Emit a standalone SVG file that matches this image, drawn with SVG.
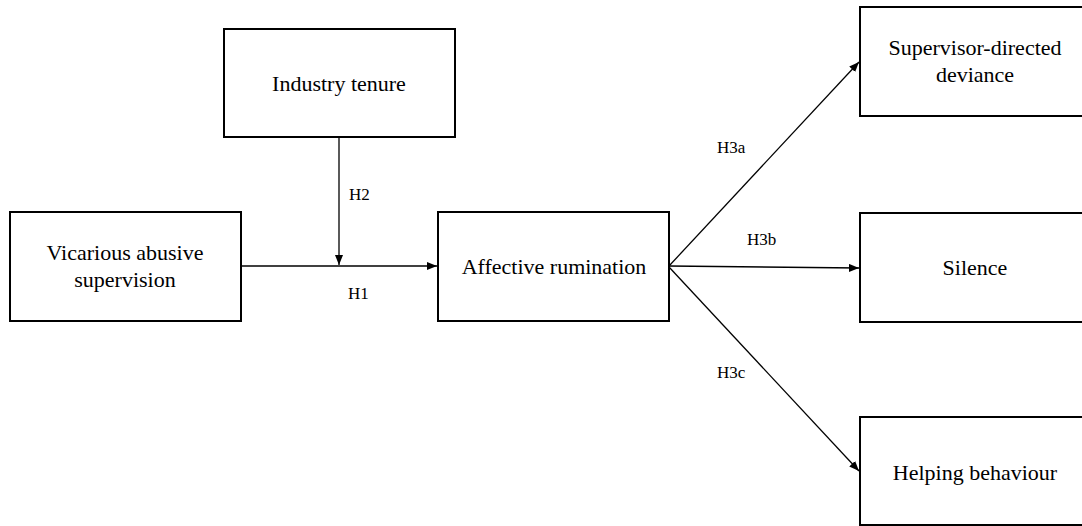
<svg xmlns="http://www.w3.org/2000/svg" width="1082" height="526" viewBox="0 0 1082 526">
<style>
.box{fill:#fff;stroke:#000;stroke-width:2}
.lbl{font-family:"Liberation Serif","Times New Roman",serif;font-size:22px;fill:#000;text-anchor:middle}
.h{font-family:"Liberation Serif","Times New Roman",serif;font-size:17px;fill:#000}
.ln{stroke:#000;stroke-width:1.3;fill:none}
</style>
<defs>
<marker id="ah" viewBox="0 0 10 8" refX="10" refY="4" markerWidth="10" markerHeight="8" markerUnits="userSpaceOnUse" orient="auto">
<path d="M0,0 L10,4 L0,8 Z" fill="#000"/>
</marker>
</defs>
<rect width="1082" height="526" fill="#fff"/>
<g id="connectors">
<path class="ln" d="M241,266 L437,266" marker-end="url(#ah)"/>
<path class="ln" d="M339,137 L339,265" marker-end="url(#ah)"/>
<path class="ln" d="M669,266 L859,62" marker-end="url(#ah)"/>
<path class="ln" d="M669,266 L859,268" marker-end="url(#ah)"/>
<path class="ln" d="M669,267 L859,471" marker-end="url(#ah)"/>
<text class="h" x="349" y="200">H2</text>
<text class="h" x="348" y="299">H1</text>
<text class="h" x="717" y="153">H3a</text>
<text class="h" x="747" y="245">H3b</text>
<text class="h" x="717" y="378">H3c</text>
</g>
<g id="industry-tenure">
<rect class="box" x="224" y="29" width="231" height="108"/>
<text class="lbl" x="339" y="91">Industry tenure</text>
</g>
<g id="vicarious-abusive-supervision">
<rect class="box" x="10" y="212" width="231" height="109"/>
<text class="lbl" x="125" y="260">Vicarious abusive</text>
<text class="lbl" x="125" y="287">supervision</text>
</g>
<g id="affective-rumination">
<rect class="box" x="438" y="212" width="231" height="109"/>
<text class="lbl" x="554" y="274">Affective rumination</text>
</g>
<g id="supervisor-directed-deviance">
<rect class="box" x="860" y="7" width="240" height="109"/>
<text class="lbl" x="975" y="55">Supervisor-directed</text>
<text class="lbl" x="975" y="82">deviance</text>
</g>
<g id="silence">
<rect class="box" x="860" y="213" width="240" height="109"/>
<text class="lbl" x="975" y="275">Silence</text>
</g>
<g id="helping-behaviour">
<rect class="box" x="860" y="417" width="240" height="108"/>
<text class="lbl" x="975" y="480">Helping behaviour</text>
</g>
</svg>
